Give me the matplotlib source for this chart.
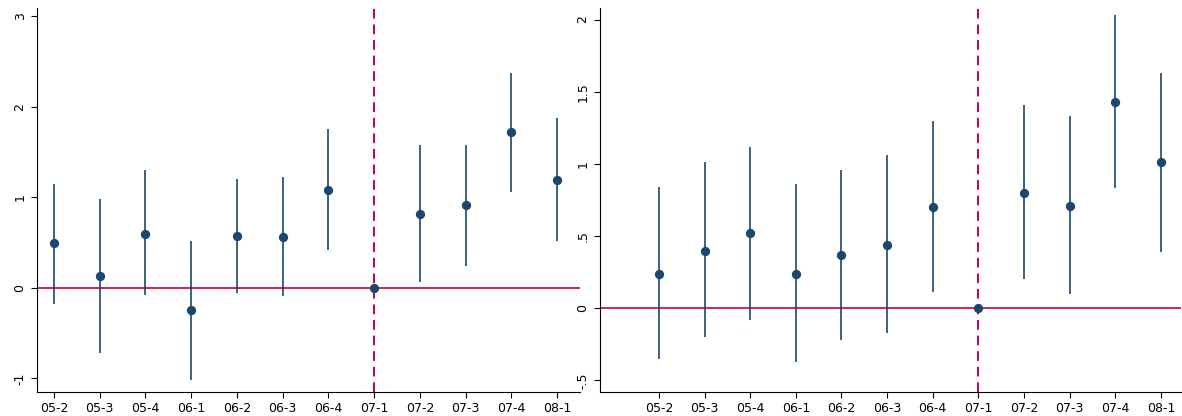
import matplotlib.pyplot as plt
import numpy as np

periods = ['05-2', '05-3', '05-4', '06-1', '06-2', '06-3', '06-4', '07-1', '07-2', '07-3', '07-4', '08-1']

left_est = [0.49, 0.13, 0.60, -0.25, 0.57, 0.56, 1.08, 0.0, 0.82, 0.92, 1.72, 1.19]
left_hi = [1.15, 0.98, 1.30, 0.52, 1.20, 1.22, 1.75, 0.0, 1.58, 1.58, 2.37, 1.87]
left_lo = [-0.18, -0.72, -0.08, -1.02, -0.06, -0.09, 0.42, 0.0, 0.07, 0.24, 1.06, 0.52]

right_est = [0.24, 0.40, 0.52, 0.24, 0.37, 0.44, 0.70, 0.0, 0.80, 0.71, 1.43, 1.01]
right_hi = [0.84, 1.01, 1.12, 0.86, 0.96, 1.06, 1.30, 0.0, 1.41, 1.33, 2.03, 1.63]
right_lo = [-0.35, -0.20, -0.08, -0.37, -0.22, -0.17, 0.11, 0.0, 0.20, 0.10, 0.83, 0.39]

navy = '#1a476f'
red = '#c10534'

fig = plt.figure(figsize=(11.82, 4.16), dpi=100)
ax1 = fig.add_axes([37/1182, 24/416, 543/1182, 384/416])
ax2 = fig.add_axes([600/1182, 24/416, 581/1182, 384/416])

def panel(ax, est, lo, hi, yticks, ylabels, ylim, xlim):
    x = np.arange(len(periods))
    ax.vlines(x, lo, hi, color=navy, lw=1.2, zorder=2)
    ax.scatter(x, est, color=navy, s=32, zorder=3)
    ax.axhline(0, color=red, lw=1.2, zorder=1)
    ax.axvline(7, color=red, lw=1.4, ls=(0, (5, 3)), zorder=1)
    ax.set_xticks(x)
    ax.set_xticklabels(periods, fontsize=9)
    ax.set_yticks(yticks)
    ax.set_yticklabels(ylabels, fontsize=9, rotation=90, va='center')
    ax.set_xlim(*xlim)
    ax.set_ylim(*ylim)
    ax.tick_params(direction='out', length=4)
    for s in ['top', 'right']:
        ax.spines[s].set_visible(False)

panel(ax1, left_est, left_lo, left_hi, [-1, 0, 1, 2, 3], ['-1', '0', '1', '2', '3'],
      (-1.15, 3.09), (-0.37, 11.5))
panel(ax2, right_est, right_lo, right_hi, [-0.5, 0, 0.5, 1, 1.5, 2], ['-.5', '0', '.5', '1', '1.5', '2'],
      (-0.58, 2.08), (-1.29, 11.44))

fig.savefig('out.png', dpi=100)
